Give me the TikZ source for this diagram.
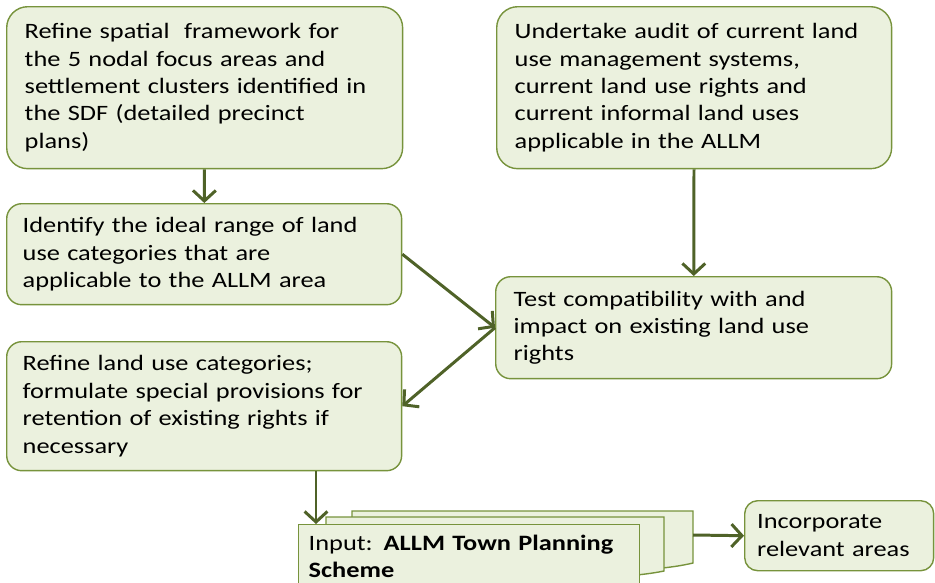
\documentclass[tikz,border=0pt]{standalone}
\usepackage{fontspec}
\setmainfont{Carlito}[FakeStretch=1.2]
\usetikzlibrary{arrows.meta,positioning}
\definecolor{boxfill}{HTML}{EBF1DE}
\definecolor{boxline}{HTML}{77933C}
\definecolor{flowcol}{HTML}{4F6228}
\tikzset{
  stepbox/.style={draw=boxline,fill=boxfill,line width=0.8pt,rounded corners=0.42cm,
    anchor=north west,align=left,inner xsep=0.36cm,
    font=\fontsize{12.5}{15.6}\selectfont},
  flow/.style={draw=flowcol,line width=1.7pt,-{Straight Barb[length=6pt,width=13pt]}},
  page/.style={draw=boxline,fill=boxfill,line width=0.8pt}
}

\begin{document}
\begin{tikzpicture}[x=0.02cm,y=-0.02cm]
	\useasboundingbox (0,0) rectangle (935,582);
	% left column
	\node (A) at (6,6) [stepbox,minimum width=7.92cm,minimum height=3.24cm,text width=7.2cm]
	{Refine spatial\ \ framework for\\the 5 nodal focus areas and\\settlement clusters identified in\\the SDF (detailed precinct\\plans)};
	\node (C) at (6,203) [stepbox,rounded corners=0.3cm,minimum width=7.9cm,minimum height=2.02cm,text width=7.26cm,inner xsep=0.32cm]
	{Identify the ideal range of land\\use categories that are\\applicable to the ALLM area};
	\node (E) at (6,341) [stepbox,rounded corners=0.3cm,minimum width=7.9cm,minimum height=2.58cm,text width=7.26cm,inner xsep=0.32cm]
	{Refine land use categories;\\formulate special provisions for\\retention of existing rights if\\necessary};
	% right column
	\node (B) at (496,6) [stepbox,minimum width=7.9cm,minimum height=3.24cm,text width=7.18cm]
	{Undertake audit of current land\\use management systems,\\current land use rights and\\current informal land uses\\applicable in the ALLM};
	\node (D) at (495,276) [stepbox,rounded corners=0.3cm,minimum width=7.92cm,minimum height=2.04cm,text width=7.2cm]
	{Test compatibility with and\\impact on existing land use\\rights};
	\node (F) at (744,500) [stepbox,rounded corners=0.26cm,minimum width=3.78cm,minimum height=1.4cm,text width=3.28cm,inner xsep=0.25cm]
	{Incorporate\\relevant areas};
	% stacked pages
	\draw[page] (352,511) -- (693,511) -- (693,563) .. controls (600,585) and (450,545) .. (352,575) -- cycle;
	\draw[page] (326,517) -- (664,517) -- (664,571) .. controls (570,590) and (420,555) .. (326,585) -- cycle;
	\node (input) at (298,524) [page,anchor=north west,minimum width=6.82cm,text width=6.42cm,align=left,
	  inner xsep=0.2cm,inner ysep=0.2cm,font=\fontsize{12.5}{15.6}\selectfont]
	{Input: \textbf{ALLM Town Planning}\\\textbf{Scheme}\\~};
	\coordinate (inptop) at (316,524);
	\coordinate (stackR) at (693,535);
	% connectors
	\draw[flow] (A) -- (C);
	\draw[flow] (B) -- (D);
	\draw[flow] (C.east) -- (D.west);
	\draw[flow] (D.west) -- (E.east);
	\draw[flow] (E.south -| inptop) -- (inptop);
	\draw[flow] (stackR) -- (F.west);
\end{tikzpicture}
\end{document}
